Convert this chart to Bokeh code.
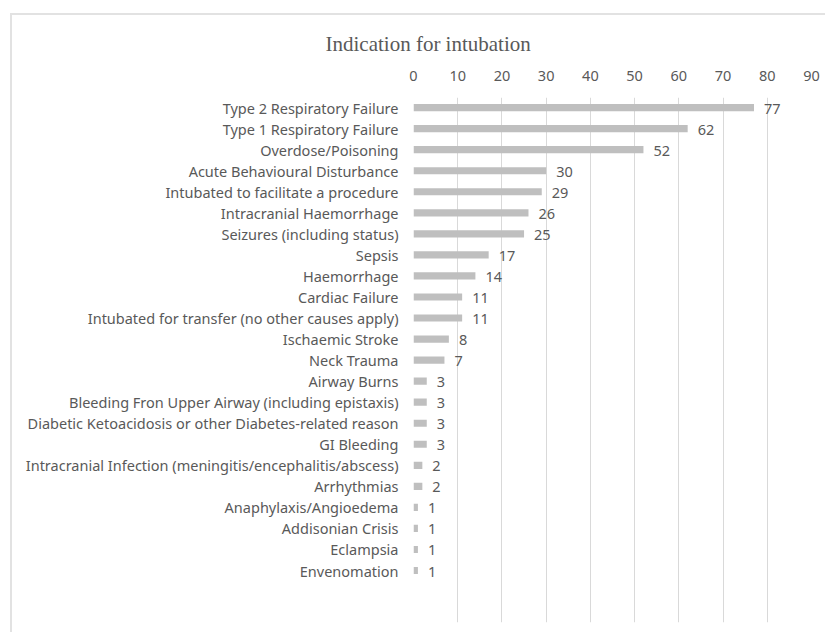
from bokeh.plotting import figure
from bokeh.models import ColumnDataSource, Range1d, LinearAxis, FixedTicker, Title
from bokeh.core.properties import value
from bokeh.embed import file_html
from bokeh.resources import INLINE

title_text = "Indication for intubation"
categories = [
    "Type 2 Respiratory Failure",
    "Type 1 Respiratory Failure",
    "Overdose/Poisoning",
    "Acute Behavioural Disturbance",
    "Intubated to facilitate a procedure",
    "Intracranial Haemorrhage",
    "Seizures (including status)",
    "Sepsis",
    "Haemorrhage",
    "Cardiac Failure",
    "Intubated for transfer (no other causes apply)",
    "Ischaemic Stroke",
    "Neck Trauma",
    "Airway Burns",
    "Bleeding Fron Upper Airway (including epistaxis)",
    "Diabetic Ketoacidosis or other Diabetes-related reason",
    "GI Bleeding",
    "Intracranial Infection (meningitis/encephalitis/abscess)",
    "Arrhythmias",
    "Anaphylaxis/Angioedema",
    "Addisonian Crisis",
    "Eclampsia",
    "Envenomation",
]
counts = [77, 62, 52, 30, 29, 26, 25, 17, 14, 11, 11, 8, 7, 3, 3, 3, 3, 2, 2, 1, 1, 1, 1]
x_ticks = [0, 10, 20, 30, 40, 50, 60, 70, 80, 90]

positions = list(range(len(categories)))
source = ColumnDataSource(data=dict(
    pos=positions,
    count=counts,
    label=[str(c) for c in counts],
))

TEXT = "#595959"
SANS = "Noto Sans"

p = figure(
    width=815, height=619,
    output_backend="svg", toolbar_location=None,
    x_range=Range1d(0, 90),
    y_range=Range1d(24.47, -0.48),
    x_axis_location=None, y_axis_location=None,
    min_border_left=401, min_border_right=16,
    min_border_top=82, min_border_bottom=12,
    margin=(13, 0, 0, 10),
    styles={"border-left": "2px solid #e2e2e2", "border-top": "2px solid #e2e2e2"},
)
p.outline_line_color = None
p.background_fill_color = "white"
p.border_fill_color = "white"

# grid
p.xgrid.ticker = FixedTicker(ticks=x_ticks)
p.xgrid.grid_line_color = "#d9d9d9"
p.xgrid.grid_line_width = 1
p.ygrid.grid_line_color = None

# top value axis
xa = LinearAxis(ticker=FixedTicker(ticks=x_ticks))
xa.axis_line_color = None
xa.major_tick_line_color = None
xa.minor_tick_line_color = None
xa.major_tick_out = 0
xa.major_tick_in = 0
xa.major_label_standoff = 17
xa.major_label_text_font = SANS
xa.major_label_text_font_size = "14.5px"
xa.major_label_text_color = TEXT
p.add_layout(xa, "above")

# left category axis
ya = LinearAxis(ticker=FixedTicker(ticks=positions))
ya.major_label_overrides = {i: c for i, c in zip(positions, categories)}
ya.axis_line_color = None
ya.major_tick_line_color = None
ya.minor_tick_line_color = None
ya.major_tick_out = 0
ya.major_tick_in = 0
ya.major_label_standoff = 15
ya.major_label_text_font = SANS
ya.major_label_text_font_size = "14.5px"
ya.major_label_text_color = TEXT
p.add_layout(ya, "left")

# bars
p.hbar(y="pos", right="count", left=0, height=0.34, source=source,
       fill_color="#bfbfbf", line_color=None)

# value labels
p.text(x="count", y="pos", text="label", source=source,
       x_offset=10, y_offset=1,
       text_align="left", text_baseline="middle",
       text_font=value(SANS), text_font_size="14.5px", text_color=TEXT)

# title
p.add_layout(Title(
    text=title_text, align="left", offset=-88, standoff=24,
    text_font="Liberation Serif", text_font_size="21px",
    text_font_style="normal", text_color=TEXT,
), "above")

open("out.html", "w").write(file_html(p, INLINE))
